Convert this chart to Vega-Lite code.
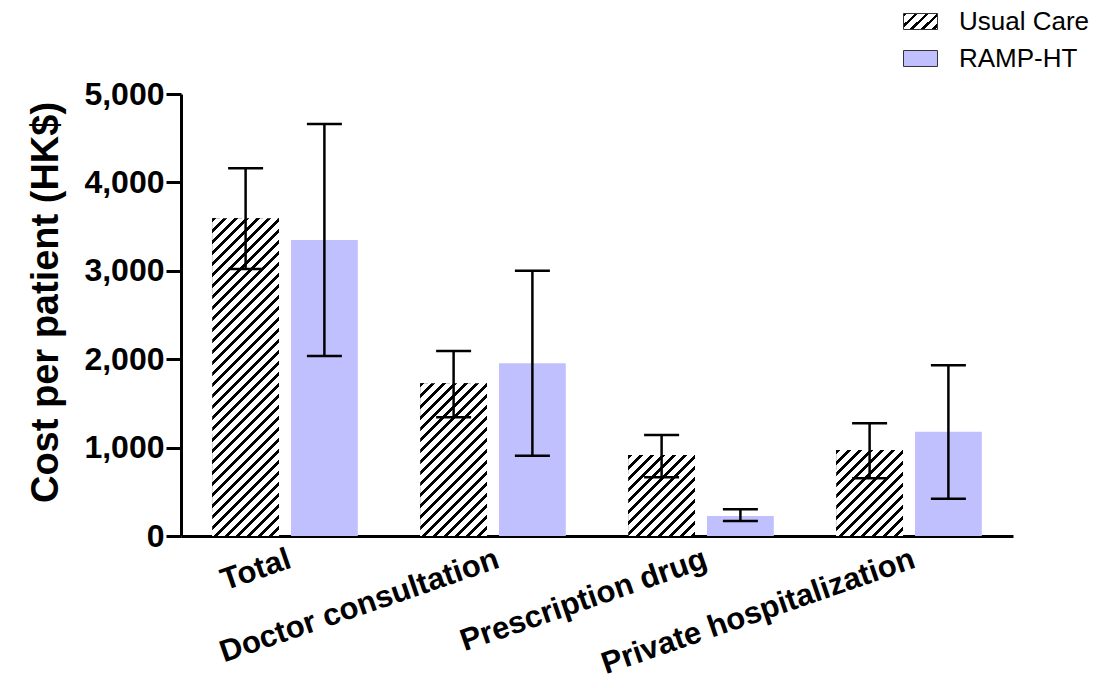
{
 "$schema": "https://vega.github.io/schema/vega-lite/v6.json",
 "width": 832,
 "height": 442,
 "autosize": {"type": "none"},
 "padding": {"left": 181, "top": 94, "right": 84, "bottom": 152},
 "params": [
  {"name": "hatch", "value": [
   {"offset":0,"color":"#000"},{"offset":0.009,"color":"#000"},{"offset":0.009,"color":"#fff"},{"offset":0.025,"color":"#fff"},
   {"offset":0.025,"color":"#000"},{"offset":0.034,"color":"#000"},{"offset":0.034,"color":"#fff"},{"offset":0.05,"color":"#fff"},
   {"offset":0.05,"color":"#000"},{"offset":0.059,"color":"#000"},{"offset":0.059,"color":"#fff"},{"offset":0.075,"color":"#fff"},
   {"offset":0.075,"color":"#000"},{"offset":0.084,"color":"#000"},{"offset":0.084,"color":"#fff"},{"offset":0.1,"color":"#fff"},
   {"offset":0.1,"color":"#000"},{"offset":0.109,"color":"#000"},{"offset":0.109,"color":"#fff"},{"offset":0.125,"color":"#fff"},
   {"offset":0.125,"color":"#000"},{"offset":0.134,"color":"#000"},{"offset":0.134,"color":"#fff"},{"offset":0.15,"color":"#fff"},
   {"offset":0.15,"color":"#000"},{"offset":0.159,"color":"#000"},{"offset":0.159,"color":"#fff"},{"offset":0.175,"color":"#fff"},
   {"offset":0.175,"color":"#000"},{"offset":0.184,"color":"#000"},{"offset":0.184,"color":"#fff"},{"offset":0.2,"color":"#fff"},
   {"offset":0.2,"color":"#000"},{"offset":0.209,"color":"#000"},{"offset":0.209,"color":"#fff"},{"offset":0.225,"color":"#fff"},
   {"offset":0.225,"color":"#000"},{"offset":0.234,"color":"#000"},{"offset":0.234,"color":"#fff"},{"offset":0.25,"color":"#fff"},
   {"offset":0.25,"color":"#000"},{"offset":0.259,"color":"#000"},{"offset":0.259,"color":"#fff"},{"offset":0.275,"color":"#fff"},
   {"offset":0.275,"color":"#000"},{"offset":0.284,"color":"#000"},{"offset":0.284,"color":"#fff"},{"offset":0.3,"color":"#fff"},
   {"offset":0.3,"color":"#000"},{"offset":0.309,"color":"#000"},{"offset":0.309,"color":"#fff"},{"offset":0.325,"color":"#fff"},
   {"offset":0.325,"color":"#000"},{"offset":0.334,"color":"#000"},{"offset":0.334,"color":"#fff"},{"offset":0.35,"color":"#fff"},
   {"offset":0.35,"color":"#000"},{"offset":0.359,"color":"#000"},{"offset":0.359,"color":"#fff"},{"offset":0.375,"color":"#fff"},
   {"offset":0.375,"color":"#000"},{"offset":0.384,"color":"#000"},{"offset":0.384,"color":"#fff"},{"offset":0.4,"color":"#fff"},
   {"offset":0.4,"color":"#000"},{"offset":0.409,"color":"#000"},{"offset":0.409,"color":"#fff"},{"offset":0.425,"color":"#fff"},
   {"offset":0.425,"color":"#000"},{"offset":0.434,"color":"#000"},{"offset":0.434,"color":"#fff"},{"offset":0.45,"color":"#fff"},
   {"offset":0.45,"color":"#000"},{"offset":0.459,"color":"#000"},{"offset":0.459,"color":"#fff"},{"offset":0.475,"color":"#fff"},
   {"offset":0.475,"color":"#000"},{"offset":0.484,"color":"#000"},{"offset":0.484,"color":"#fff"},{"offset":0.5,"color":"#fff"},
   {"offset":0.5,"color":"#000"},{"offset":0.509,"color":"#000"},{"offset":0.509,"color":"#fff"},{"offset":0.525,"color":"#fff"},
   {"offset":0.525,"color":"#000"},{"offset":0.534,"color":"#000"},{"offset":0.534,"color":"#fff"},{"offset":0.55,"color":"#fff"},
   {"offset":0.55,"color":"#000"},{"offset":0.559,"color":"#000"},{"offset":0.559,"color":"#fff"},{"offset":0.575,"color":"#fff"},
   {"offset":0.575,"color":"#000"},{"offset":0.584,"color":"#000"},{"offset":0.584,"color":"#fff"},{"offset":0.6,"color":"#fff"},
   {"offset":0.6,"color":"#000"},{"offset":0.609,"color":"#000"},{"offset":0.609,"color":"#fff"},{"offset":0.625,"color":"#fff"},
   {"offset":0.625,"color":"#000"},{"offset":0.634,"color":"#000"},{"offset":0.634,"color":"#fff"},{"offset":0.65,"color":"#fff"},
   {"offset":0.65,"color":"#000"},{"offset":0.659,"color":"#000"},{"offset":0.659,"color":"#fff"},{"offset":0.675,"color":"#fff"},
   {"offset":0.675,"color":"#000"},{"offset":0.684,"color":"#000"},{"offset":0.684,"color":"#fff"},{"offset":0.7,"color":"#fff"},
   {"offset":0.7,"color":"#000"},{"offset":0.709,"color":"#000"},{"offset":0.709,"color":"#fff"},{"offset":0.725,"color":"#fff"},
   {"offset":0.725,"color":"#000"},{"offset":0.734,"color":"#000"},{"offset":0.734,"color":"#fff"},{"offset":0.75,"color":"#fff"},
   {"offset":0.75,"color":"#000"},{"offset":0.759,"color":"#000"},{"offset":0.759,"color":"#fff"},{"offset":0.775,"color":"#fff"},
   {"offset":0.775,"color":"#000"},{"offset":0.784,"color":"#000"},{"offset":0.784,"color":"#fff"},{"offset":0.8,"color":"#fff"},
   {"offset":0.8,"color":"#000"},{"offset":0.809,"color":"#000"},{"offset":0.809,"color":"#fff"},{"offset":0.825,"color":"#fff"},
   {"offset":0.825,"color":"#000"},{"offset":0.834,"color":"#000"},{"offset":0.834,"color":"#fff"},{"offset":0.85,"color":"#fff"},
   {"offset":0.85,"color":"#000"},{"offset":0.859,"color":"#000"},{"offset":0.859,"color":"#fff"},{"offset":0.875,"color":"#fff"},
   {"offset":0.875,"color":"#000"},{"offset":0.884,"color":"#000"},{"offset":0.884,"color":"#fff"},{"offset":0.9,"color":"#fff"},
   {"offset":1,"color":"#fff"}
  ]}
 ],
 "data": {"values": [
  {"cat": "Total", "group": "Usual Care", "cost": 3595, "lo": 3020, "hi": 4160},
  {"cat": "Total", "group": "RAMP-HT", "cost": 3348, "lo": 2035, "hi": 4660},
  {"cat": "Doctor consultation", "group": "Usual Care", "cost": 1728, "lo": 1343, "hi": 2093},
  {"cat": "Doctor consultation", "group": "RAMP-HT", "cost": 1955, "lo": 908, "hi": 3001},
  {"cat": "Prescription drug", "group": "Usual Care", "cost": 916, "lo": 664, "hi": 1142},
  {"cat": "Prescription drug", "group": "RAMP-HT", "cost": 226, "lo": 170, "hi": 302},
  {"cat": "Private hospitalization", "group": "Usual Care", "cost": 973, "lo": 652, "hi": 1275},
  {"cat": "Private hospitalization", "group": "RAMP-HT", "cost": 1180, "lo": 422, "hi": 1931}
 ]},
 "encoding": {
  "x": {
   "field": "cat", "type": "nominal", "sort": null,
   "scale": {"paddingInner": 0.3, "paddingOuter": 0.15},
   "axis": {"title": null, "ticks": false, "domainColor": "black", "domainWidth": 3,
    "labelAngle": -19, "labelAlign": "right", "labelBaseline": "top",
    "labelFontSize": 31, "labelFontWeight": "bold", "labelColor": "black",
    "labelPadding": 8, "labelLimit": 700}
  },
  "xOffset": {"field": "group", "type": "nominal", "sort": null,
   "scale": {"domain": ["Usual Care", "RAMP-HT"], "paddingInner": 0.152}}
 },
 "layer": [
  {
   "mark": {"type": "bar"},
   "encoding": {
    "y": {"field": "cost", "type": "quantitative", "stack": null,
     "title": "Cost per patient (HK$)",
     "scale": {"domain": [0, 5000], "nice": false},
     "axis": {"values": [0, 1000, 2000, 3000, 4000, 5000], "format": ",d", "grid": false,
      "domainColor": "black", "domainWidth": 3, "tickColor": "black", "tickWidth": 3, "tickSize": 15,
      "labelFontSize": 32, "labelFontWeight": "bold", "labelColor": "black", "labelPadding": 2,
      "labelFlush": false, "labelOverlap": false,
      "titleFontSize": 38, "titleFontWeight": "bold", "titleColor": "black", "titlePadding": 18, "titleY": 208}},
    "color": {"field": "group", "type": "nominal", "sort": null,
     "scale": {"domain": ["Usual Care", "RAMP-HT"],
      "range": [{"expr": "{gradient: 'linear', x1: 0, y1: 0, x2: 10.595, y2: 4.986, stops: hatch}"}, "#C0C0FF"]},
     "legend": {"title": null, "orient": "none", "legendX": 722, "legendY": -90,
      "symbolType": "M-1,-0.47H1V0.47H-1Z", "symbolSize": 1156,
      "symbolStrokeColor": "black", "symbolStrokeWidth": 1,
      "labelFontSize": 26, "labelColor": "black", "labelOffset": 21, "rowPadding": 6, "padding": 0,
      "encoding": {"symbols": {"stroke": {"value": "#333"}, "strokeWidth": {"value": 1}}}}}
   }
  },
  {
   "transform": [{"filter": "datum.group === 'Usual Care'"}],
   "mark": {"type": "bar",
    "fill": {"expr": "{gradient: 'linear', x1: 0, y1: 0, x2: bandwidth('xOffset') * 440 / (pow(bandwidth('xOffset'), 2) + pow(scale('y', 0) - scale('y', datum.cost), 2)), y2: (scale('y', 0) - scale('y', datum.cost)) * 440 / (pow(bandwidth('xOffset'), 2) + pow(scale('y', 0) - scale('y', datum.cost), 2)), stops: hatch}"}},
   "encoding": {
    "xOffset": {"field": "group", "type": "nominal", "sort": null,
     "scale": {"domain": ["Usual Care", "RAMP-HT"], "paddingInner": 0.152}},
    "y": {"field": "cost", "type": "quantitative", "stack": null, "title": "Cost per patient (HK$)"}
   }
  },
  {
   "mark": {"type": "rule", "color": "black", "strokeWidth": 2.5},
   "encoding": {
    "y": {"field": "lo", "type": "quantitative", "title": "Cost per patient (HK$)"},
    "y2": {"field": "hi"}
   }
  },
  {
   "mark": {"type": "tick", "orient": "horizontal", "color": "black", "size": 35, "thickness": 2.5, "opacity": 1},
   "encoding": {
    "y": {"field": "lo", "type": "quantitative", "title": "Cost per patient (HK$)"}
   }
  },
  {
   "mark": {"type": "tick", "orient": "horizontal", "color": "black", "size": 35, "thickness": 2.5, "opacity": 1},
   "encoding": {
    "y": {"field": "hi", "type": "quantitative", "title": "Cost per patient (HK$)"}
   }
  }
 ],
 "config": {
  "view": {"stroke": null},
  "font": "Liberation Sans",
  "background": "white"
 }
}
